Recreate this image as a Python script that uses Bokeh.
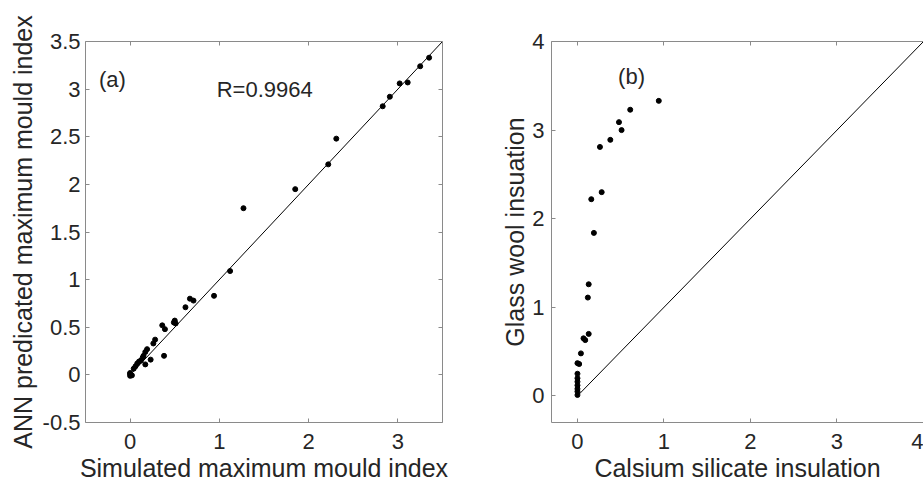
from bokeh.plotting import figure
from bokeh.layouts import row
from bokeh.models import LinearAxis, FixedTicker, Label
from bokeh.embed import file_html
from bokeh.resources import INLINE

# ---------------- data ----------------
# Panel (a): simulated vs ANN predicted maximum mould index
sim_a = [0.00, 0.00, 0.01, 0.02, 0.00, 0.04, 0.06, 0.08, 0.10, 0.12, 0.14, 0.17, 0.15,
         0.19, 0.17, 0.23, 0.26, 0.28, 0.36, 0.39, 0.38, 0.50, 0.51, 0.49, 0.62, 0.67,
         0.71, 0.94, 1.12, 1.27, 1.85, 2.22, 2.31, 2.83, 2.91, 3.02, 3.11, 3.25, 3.35]
ann_a = [0.01, -0.01, 0.00, -0.005, 0.02, 0.065, 0.09, 0.12, 0.14, 0.15, 0.18, 0.11, 0.20,
         0.27, 0.24, 0.16, 0.33, 0.37, 0.52, 0.48, 0.20, 0.57, 0.54, 0.55, 0.71, 0.80,
         0.78, 0.83, 1.09, 1.75, 1.95, 2.21, 2.48, 2.82, 2.92, 3.06, 3.07, 3.24, 3.33]
line_a = [0.0, 3.5]

# Panel (b): calcium silicate vs glass wool insulation
calsium_b = [0.94, 0.61, 0.48, 0.51, 0.38, 0.26, 0.28, 0.16, 0.19, 0.13, 0.12, 0.13,
             0.07, 0.09, 0.04, 0.02, 0.00, 0.00, 0.00, 0.00, 0.00, 0.00, 0.00, 0.00]
glass_b = [3.33, 3.23, 3.09, 3.00, 2.89, 2.81, 2.30, 2.22, 1.84, 1.26, 1.11, 0.70,
           0.65, 0.63, 0.48, 0.36, 0.37, 0.25, 0.20, 0.16, 0.12, 0.08, 0.05, 0.01]
line_b = [0.0, 4.0]

x_ticks_a = [0, 1, 2, 3]
x_tick_labels_a = ["0", "1", "2", "3"]
y_ticks_a = [-0.5, 0, 0.5, 1, 1.5, 2, 2.5, 3, 3.5]
y_tick_labels_a = ["-0.5", "0", "0.5", "1", "1.5", "2", "2.5", "3", "3.5"]
ticks_b = [0, 1, 2, 3, 4]
tick_labels_b = ["0", "1", "2", "3", "4"]

FONT = "Liberation Sans"
TXT = "#262626"
AX = "#8a8a8a"


def style_axis(ax, ticks, labels=None, standoff=5, show_labels=True, label_standoff=3):
    ax.ticker = FixedTicker(ticks=ticks)
    ax.axis_line_color = AX
    ax.axis_line_width = 1
    ax.major_tick_line_color = AX
    ax.major_tick_in = 4
    ax.major_tick_out = 0
    ax.minor_tick_line_color = None
    ax.major_label_text_font = FONT
    ax.major_label_text_font_size = "22px"
    ax.major_label_standoff = standoff
    if show_labels:
        ax.major_label_text_color = TXT
        if labels is not None:
            ax.major_label_overrides = {float(t): l for t, l in zip(ticks, labels)}
    else:
        # tick marks only (box-style frame); labels are not painted
        ax.major_label_text_color = None
    ax.axis_label_text_font = FONT
    ax.axis_label_text_font_size = "25px"
    ax.axis_label_text_font_style = "normal"
    ax.axis_label_text_color = TXT
    ax.axis_label_standoff = label_standoff


def base_fig(width, xr, yr, left, right):
    p = figure(width=width, height=488, x_range=xr, y_range=yr,
               output_backend="svg", toolbar_location=None,
               min_border_left=left, min_border_right=right,
               min_border_top=41, min_border_bottom=66)
    p.outline_line_color = None
    p.xgrid.grid_line_color = None
    p.ygrid.grid_line_color = None
    p.background_fill_color = "white"
    p.border_fill_color = "white"
    return p


# ---------------- panel (a) ----------------
p1 = base_fig(495, (-0.5, 3.5), (-0.5, 3.5), 85, 53)
style_axis(p1.xaxis[0], x_ticks_a, x_tick_labels_a, standoff=11, label_standoff=2)
p1.xaxis[0].axis_label = "Simulated maximum mould index"
style_axis(p1.yaxis[0], y_ticks_a, y_tick_labels_a, standoff=5, label_standoff=3)
p1.yaxis[0].axis_label = "ANN predicated maximum mould index"
top_a = LinearAxis()
style_axis(top_a, x_ticks_a, show_labels=False, standoff=0)
p1.add_layout(top_a, "above")
right_a = LinearAxis()
style_axis(right_a, y_ticks_a, show_labels=False, standoff=0)
p1.add_layout(right_a, "right")

p1.line(line_a, line_a, line_color="black", line_width=1)
p1.scatter(sim_a, ann_a, marker="circle", size=5, fill_color="black", line_color="black")
p1.add_layout(Label(x=-0.35, y=3.1, text="(a)", text_font=FONT, text_font_size="22px",
                    text_color=TXT, text_baseline="middle", text_align="left"))
p1.add_layout(Label(x=0.97, y=3.0, text="R=0.9964", text_font=FONT, text_font_size="22px",
                    text_color=TXT, text_baseline="middle", text_align="left"))

# ---------------- panel (b) ----------------
p2 = base_fig(428, (-0.3, 4.0), (-0.3, 4.0), 56, 0)
style_axis(p2.xaxis[0], ticks_b, tick_labels_b, standoff=11, label_standoff=2)
p2.xaxis[0].axis_label = "Calsium silicate insulation"
style_axis(p2.yaxis[0], ticks_b, tick_labels_b, standoff=7, label_standoff=0)
p2.yaxis[0].axis_label = "Glass wool insuation"
top_b = LinearAxis()
style_axis(top_b, ticks_b, show_labels=False, standoff=0)
p2.add_layout(top_b, "above")

p2.line(line_b, line_b, line_color="black", line_width=1)
p2.scatter(calsium_b, glass_b, marker="circle", size=5, fill_color="black", line_color="black")
p2.add_layout(Label(x=0.47, y=3.6, text="(b)", text_font=FONT, text_font_size="22px",
                    text_color=TXT, text_baseline="middle", text_align="left"))

layout = row(p1, p2)
open("out.html", "w").write(file_html(layout, INLINE))
